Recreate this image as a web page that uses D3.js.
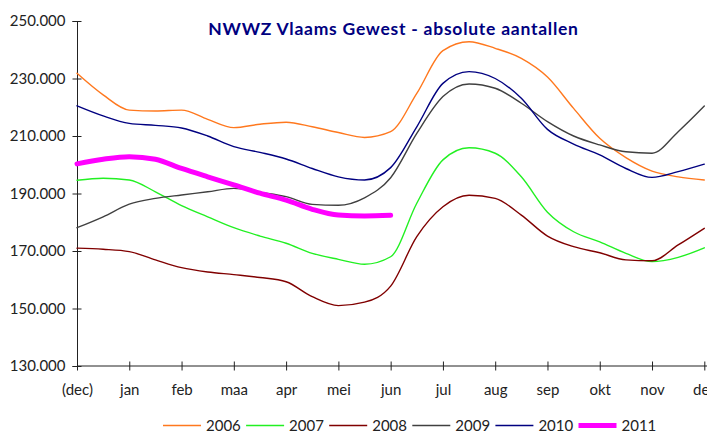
<!DOCTYPE html>
<html>
<head>
<meta charset="utf-8">
<script src="https://cdn.jsdelivr.net/npm/d3@7"></script>
<style>
    body { margin: 0; background: #fff; }
    text { font-family: Lato, "Open Sans", sans-serif; fill: #222; }
    .title { font-weight: bold; fill: #000080; letter-spacing: 0.75px; }
</style>
</head>
<body>
<script>
// months on the x axis (data points every half month)
let months = ['(dec)', 'jan', 'feb', 'maa', 'apr', 'mei', 'jun', 'jul', 'aug', 'sep', 'okt', 'nov', 'dec'];
let years = ['2006', '2007', '2008', '2009', '2010', '2011'];
let yTicks = [130000, 150000, 170000, 190000, 210000, 230000, 250000];

let v2006 = [231800, 224300, 219000, 218700, 219000, 215800, 212900, 214100, 214800, 213200, 211200, 209500, 211500,
    224800, 239700, 242800, 240500, 237000, 230500, 219600, 209200, 202500, 197800, 195800, 194700];
let v2007 = [194600, 195300, 194700, 190600, 185800, 181900, 178100, 175200, 172700, 169200, 167100, 165400, 168000,
    186600, 201700, 205900, 204000, 195800, 183500, 176700, 173200, 169200, 166300, 167800, 171100];
let v2008 = [171000, 170600, 169800, 166900, 164200, 162700, 161800, 160800, 159300, 154100, 151000, 152200, 157800,
    175000, 185400, 189400, 188300, 182500, 175200, 171500, 169400, 166900, 166600, 172100, 177900];
let v2009 = [178100, 181900, 186300, 188300, 189500, 190600, 191800, 190400, 188900, 186200, 185900, 188500, 195500,
    210900, 223700, 228100, 226600, 221400, 215000, 210000, 206900, 204500, 204000, 211500, 220400];
let v2010 = [220500, 217000, 214400, 213700, 212800, 210000, 206300, 204300, 202000, 198700, 195800, 194700, 199000,
    213200, 228300, 232400, 230000, 223100, 212300, 207200, 203400, 198700, 195600, 197600, 200200];
let v2011 = [200300, 201900, 202800, 201900, 198700, 195800, 193000, 190100, 187700, 184500, 182500, 182200, 182400];

let colors = ['#ff781e', '#22f022', '#800000', '#404040', '#000080', '#ff00ff'];
let widths = [1.4, 1.4, 1.4, 1.4, 1.4, 5];

let width = 707, height = 432;
let margin = {top: 21, bottom: 66, left: 77, right: 2.7};

let svg = d3.select("body").append("svg")
    .attr('width', width)
    .attr('height', height);

let x = d3.scaleLinear().domain([0, 12]).range([margin.left, width - margin.right]);
let y = d3.scaleLinear().domain([130000, 250000]).range([height - margin.bottom, margin.top]);

let nl = d3.formatLocale({decimal: ',', thousands: '.', grouping: [3], currency: ['', '']});

// y axis, ticks crossing the line
let yAxis = svg.append("g")
    .attr("transform", "translate(" + margin.left + ",0)")
    .call(d3.axisLeft(y).tickValues(yTicks).tickFormat(nl.format(',.0f')).tickSize(4.5).tickPadding(7));
yAxis.selectAll(".tick line").attr("x1", 4.5);
yAxis.selectAll("text").style("font-size", "15px");

let xAxis = svg.append("g")
    .attr("transform", "translate(0," + (height - margin.bottom) + ")")
    .call(d3.axisBottom(x).tickValues(d3.range(13)).tickFormat(function (d) {
        return months[d];
    }).tickSize(4.5));
xAxis.selectAll(".tick line").attr("y1", -4.5);
xAxis.selectAll("text").style("font-size", "15px").attr("y", 18.5);
xAxis.select(".domain").attr("d", "M" + margin.left + ",0H" + width);

svg.selectAll(".domain, .tick line").attr("stroke", "#222");

// series
let series = [v2006, v2007, v2008, v2009, v2010, v2011];
let line = d3.line()
    .x(function (d, i) { return x(i / 2); })
    .y(function (d) { return y(d); })
    .curve(d3.curveMonotoneX);

svg.selectAll(".serie")
    .data(series).enter().append("path")
    .attr("class", "serie")
    .attr("d", line)
    .attr("fill", "none")
    .attr("stroke-linejoin", "round")
    .attr("stroke-linecap", "round")
    .attr("stroke", function (d, i) { return colors[i]; })
    .attr("stroke-width", function (d, i) { return widths[i]; });

// legend
let legend = svg.selectAll(".legend")
    .data(years).enter().append("g")
    .attr("class", "legend")
    .attr("transform", function (d, i) {
        return "translate(" + (163 + i * 83.1) + ",425.5)";
    });
legend.append("line")
    .attr("x1", 0).attr("x2", 38)
    .attr("stroke", function (d, i) { return colors[i]; })
    .attr("stroke-width", function (d, i) { return widths[i]; });
legend.append("text")
    .attr("x", 43).attr("y", 5)
    .style("font-size", "15px")
    .text(function (d) { return d; });

svg.append("text")
    .attr("class", "title")
    .attr("x", 393.5).attr("y", 35)
    .attr("text-anchor", "middle")
    .style("font-size", "17.5px")
    .text("NWWZ Vlaams Gewest - absolute aantallen");
</script>
</body>
</html>
